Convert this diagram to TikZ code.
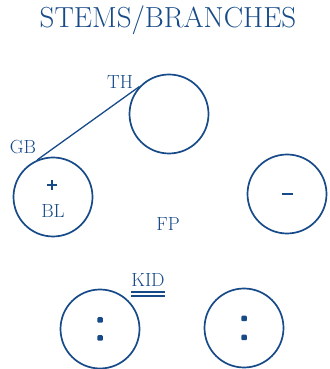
\documentclass[tikz,border=0pt]{standalone}
\usetikzlibrary{positioning}
\definecolor{stemblue}{RGB}{22,74,136}

\begin{document}
\begin{tikzpicture}[x=1pt,y=1pt]
	\tikzset{ring/.style={draw=stemblue, circle, line width=1.7pt, minimum size=79pt, inner sep=0pt},
		lbl/.style={text=stemblue, inner sep=0pt, font=\fontsize{19}{21}\selectfont},
		dot/.style={fill=stemblue, rectangle, rounded corners=1pt, minimum size=5.5pt, inner sep=0pt},
		bar/.style={fill=stemblue, rectangle, minimum width=11pt, minimum height=2.6pt, inner sep=0pt},
		sign/.style={inner sep=0pt, minimum size=10pt},
	}
	\useasboundingbox (0,0) rectangle (329,369);
	
	\node [lbl, font=\fontsize{29}{32}\selectfont] (title) at (168,349) {STEMS/BRANCHES};
	\node [ring] (th) at (169,255) {};
	\node [ring] (bl) at (53,172) {};
	\node [ring] (neg) at (287,175) {};
	\node [ring] (kidl) at (100,40) {};
	\node [ring] (kidr) at (244,41) {};
	\draw [stemblue, line width=1.3pt] (bl.113) -- (th.137);
	\node [lbl] (thlbl) at (120,287) {TH};
	\node [lbl] (gblbl) at (23,222) {GB};
	\node [sign] (plus) at (52,184) {};
	\draw [stemblue, line width=2pt] (plus.west) -- (plus.east) (plus.north) -- (plus.south);
	\node [lbl] (bllbl) at (53,158) {BL};
	\node [lbl] (fplbl) at (168,145) {FP};
	\node [bar] (minus) at (neg.center) {};
	\node [lbl] (kid) at (148,89) {KID};
	\draw [stemblue, line width=1.7pt] ([yshift=-5pt]kid.south west) -- ([yshift=-5pt]kid.south east);
	\draw [stemblue, line width=1.7pt] ([yshift=-9pt]kid.south west) -- ([yshift=-9pt]kid.south east);
	\node [dot] (kidla) at ([yshift=9pt]kidl.center) {};
	\node [dot] (kidlb) at ([yshift=-9pt]kidl.center) {};
	\node [dot] (kidra) at ([yshift=9.5pt]kidr.center) {};
	\node [dot] (kidrb) at ([yshift=-9.5pt]kidr.center) {};
\end{tikzpicture}
\end{document}
